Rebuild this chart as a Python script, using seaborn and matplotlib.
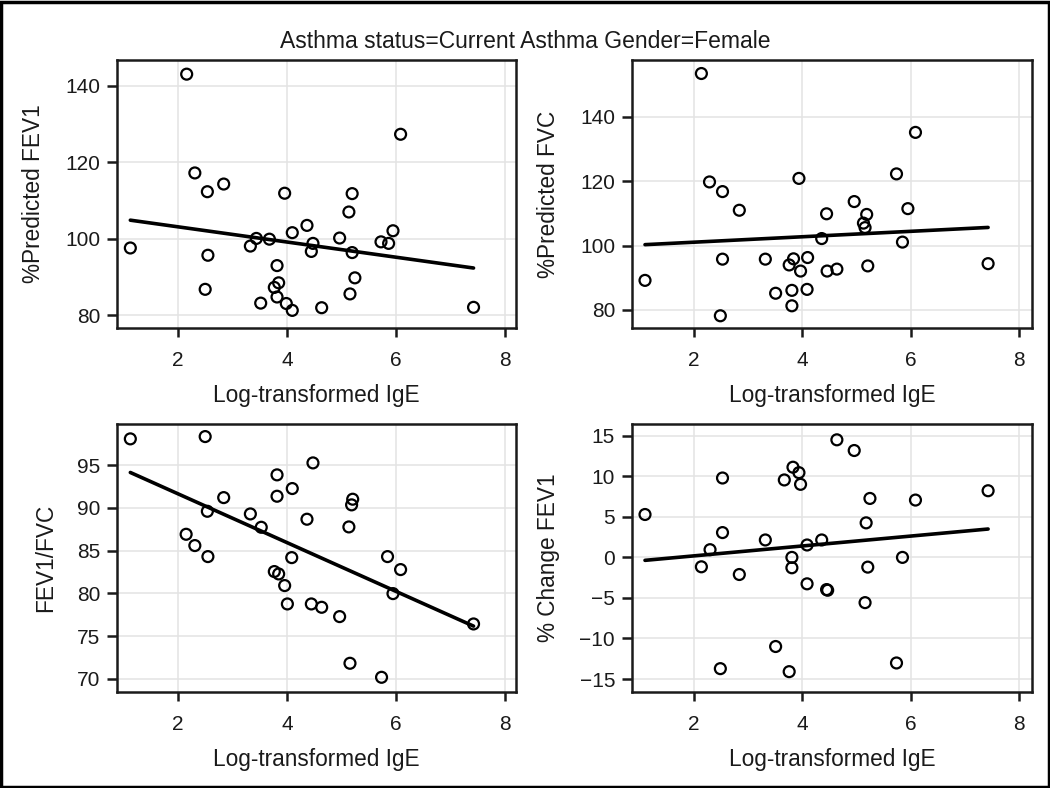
import numpy as np
import pandas as pd
import matplotlib
matplotlib.use("Agg")
import matplotlib.pyplot as plt
import seaborn as sns
from matplotlib.patches import Rectangle

# ---- data ----
fev1_x = [1.125, 2.16, 2.31, 2.54, 2.84, 2.55, 2.50, 3.33, 3.44, 3.68, 3.96, 3.82,
          3.85, 3.77, 3.82, 3.52, 3.99, 4.10, 4.10, 4.37, 4.48, 4.45, 4.64, 4.97,
          5.14, 5.20, 5.20, 5.16, 5.25, 5.73, 5.87, 5.95, 6.09, 7.43]
fev1_y = [97.6, 143.0, 117.2, 112.3, 114.3, 95.7, 86.8, 98.1, 100.1, 99.9, 111.9, 93.0,
          88.5, 87.3, 84.8, 83.2, 83.1, 81.3, 101.6, 103.5, 98.8, 96.7, 82.0, 100.2,
          107.0, 111.8, 96.4, 85.6, 89.8, 99.2, 98.8, 102.1, 127.3, 82.1]

fvc_x = [1.10, 2.14, 2.29, 2.53, 2.84, 2.53, 2.49, 3.32, 3.51, 3.76, 3.84, 3.81,
         3.81, 3.94, 3.97, 4.10, 4.09, 4.36, 4.45, 4.46, 4.64, 4.96, 5.13, 5.16,
         5.19, 5.21, 5.74, 5.85, 5.95, 6.09, 7.43]
fvc_y = [89.2, 153.5, 119.8, 116.8, 111.0, 95.8, 78.2, 95.8, 85.2, 94.0, 95.9, 86.1,
         81.3, 120.9, 92.1, 96.3, 86.4, 102.2, 109.9, 92.1, 92.7, 113.7, 107.0, 105.6,
         109.7, 93.7, 122.3, 101.1, 111.5, 135.2, 94.4]

ratio_x = [1.125, 2.50, 2.15, 2.31, 2.55, 2.54, 2.84, 3.33, 3.53, 3.82, 3.82, 3.77,
           3.85, 3.96, 4.01, 4.10, 4.09, 4.37, 4.48, 4.45, 4.64, 4.97, 5.14, 5.21,
           5.19, 5.16, 5.74, 5.85, 5.95, 6.09, 7.43]
ratio_y = [98.06, 98.33, 86.90, 85.58, 84.29, 89.59, 91.19, 89.28, 87.72, 93.85, 91.35, 82.54,
           82.26, 80.90, 78.75, 92.25, 84.17, 88.66, 95.25, 78.75, 78.36, 77.27, 87.76, 91.00,
           90.34, 71.81, 70.17, 84.29, 79.96, 82.77, 76.41]

chg_x = [1.10, 2.14, 2.30, 2.53, 2.53, 2.49, 2.84, 3.32, 3.51, 3.67, 3.83, 3.81,
         3.81, 3.76, 3.94, 3.97, 4.09, 4.09, 4.36, 4.45, 4.47, 4.64, 4.96, 5.18,
         5.25, 5.21, 5.16, 5.74, 5.85, 6.09, 7.43]
chg_y = [5.29, -1.16, 0.95, 9.79, 3.06, -13.72, -2.11, 2.15, -10.99, 9.55, 11.12, 0.0,
         -1.28, -14.09, 10.45, 9.01, 1.53, -3.26, 2.15, -3.97, -4.05, 14.50, 13.18, 4.26,
         7.27, -1.20, -5.58, -13.02, 0.0, 7.07, 8.22]

x_label = "Log-transformed IgE"
y_labels = ["%Predicted FEV1", "%Predicted FVC", "FEV1/FVC", "% Change FEV1"]
title = "Asthma status=Current Asthma Gender=Female"
x_ticks = [2, 4, 6, 8]
y_ticks = [[80, 100, 120, 140], [80, 100, 120, 140],
           [70, 75, 80, 85, 90, 95], [-15, -10, -5, 0, 5, 10, 15]]

# ---- style ----
sns.set_theme(style="whitegrid")
plt.rcParams["font.family"] = ["Liberation Sans", "DejaVu Sans"]
plt.rcParams.update({
    "axes.edgecolor": "#1a1a1a",
    "axes.linewidth": 1.8,
    "grid.color": "#e3e3e3",
    "grid.linewidth": 1.1,
    "xtick.bottom": True,
    "ytick.left": True,
    "xtick.major.size": 6.8,
    "ytick.major.size": 7.2,
    "xtick.major.width": 1.8,
    "ytick.major.width": 1.8,
    "xtick.color": "#1a1a1a",
    "ytick.color": "#1a1a1a",
    "xtick.labelsize": 15,
    "ytick.labelsize": 15,
    "axes.labelsize": 16.3,
    "axes.labelcolor": "#1a1a1a",
    "text.color": "#1a1a1a",
})

fig = plt.figure(figsize=(10.5, 7.88), dpi=100)
W, H = 1050, 788
boxes = [(117, 60, 516, 328), (632, 60, 1032, 328),
         (117, 424, 516, 692), (632, 424, 1032, 692)]
ylims = [(76.7, 146.7), (74.4, 157.7), (68.45, 99.8), (-16.6, 16.45)]
xlims = [(0.88, 8.21), (0.86, 8.24), (0.88, 8.21), (0.86, 8.24)]
datasets = [(fev1_x, fev1_y), (fvc_x, fvc_y), (ratio_x, ratio_y), (chg_x, chg_y)]

for i, ((l, t, r, b), (xs, ys)) in enumerate(zip(boxes, datasets)):
    ax = fig.add_axes([l / W, 1 - b / H, (r - l) / W, (b - t) / H])
    df = pd.DataFrame({"x": xs, "y": ys})
    sns.regplot(data=df, x="x", y="y", ax=ax, ci=None,
                scatter_kws=dict(s=62, facecolors="none", edgecolors="black",
                                 linewidths=1.6, alpha=1),
                line_kws=dict(color="black", linewidth=2.6))
    ax.set_xlim(*xlims[i])
    ax.set_ylim(*ylims[i])
    ax.set_xticks(x_ticks)
    ax.set_yticks(y_ticks[i])
    ax.set_xlabel(x_label, labelpad=10)
    ax.set_ylabel(y_labels[i], labelpad=14)
    ax.tick_params(axis="x", pad=9.5)
    ax.tick_params(axis="y", pad=5)
    for s in ax.spines.values():
        s.set_visible(True)
        s.set_color("#1a1a1a")
        s.set_linewidth(1.8)

fig.text(525 / W, 1 - 42 / H, title, ha="center", va="center", fontsize=16.5)
fig.patches.append(Rectangle((0.001, 0.001), 0.998, 0.997, transform=fig.transFigure,
                             fill=False, edgecolor="black", linewidth=2.5))

fig.savefig("out.png", dpi=100)
